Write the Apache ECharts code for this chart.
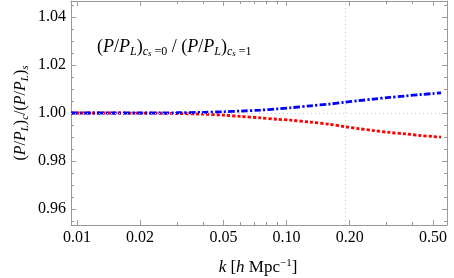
<!DOCTYPE html>
<html>
<head>
<meta charset="utf-8">
<script src="https://cdn.jsdelivr.net/npm/echarts@6/dist/echarts.min.js"></script>
<style>html,body{margin:0;padding:0;background:#fff;}#c{width:454px;height:278px;}</style>
</head>
<body>
<div id="c"></div>
<script>
// k values [h/Mpc]
var kValues = [0.00936, 0.012, 0.015, 0.02, 0.025, 0.03, 0.04, 0.05, 0.06, 0.075, 0.09, 0.105, 0.13, 0.16, 0.19, 0.22, 0.26, 0.31, 0.37, 0.44, 0.5, 0.546];
// blue dash-dot curve
var blueRatio = [1.0000, 1.0000, 1.0000, 1.0000, 1.0000, 1.0001, 1.0003, 1.0005, 1.0008, 1.0012, 1.0017, 1.0022, 1.0030, 1.0037, 1.0045, 1.0051, 1.0058, 1.0065, 1.0071, 1.0077, 1.0081, 1.0084];
// red dotted curve
var redRatio = [1.0000, 1.0000, 1.0000, 0.99995, 0.9999, 0.9998, 0.9995, 0.9991, 0.9986, 0.9980, 0.9974, 0.9970, 0.9962, 0.9953, 0.9943, 0.9935, 0.9927, 0.9919, 0.9913, 0.9906, 0.9902, 0.9900];
var xMajorTicks = [0.01, 0.02, 0.05, 0.1, 0.2, 0.5];
var xMinorTicks = [0.03, 0.04, 0.06, 0.07, 0.08, 0.09, 0.3, 0.4];
var yMajorTicks = [0.96, 0.98, 1.00, 1.02, 1.04];
var yMinorTicks = [0.955, 0.965, 0.97, 0.975, 0.985, 0.99, 0.995, 1.005, 1.01, 1.015, 1.025, 1.03, 1.035, 1.045];
var kNonLinear = 0.187;

var FRAME = '#999999';
var SERIF = '"Liberation Serif", "DejaVu Serif", serif';
var xMin = 0.00936, xMax = 0.583, yMin = 0.9534, yMax = 1.0466;

function pairs(xs, ys) { return xs.map(function (x, i) { return [x, ys[i]]; }); }

function xAx(pos, ticks, len, showLine, showLabel) {
  return {
    type: 'log', logBase: 10, min: xMin, max: xMax, position: pos,
    axisLine: { show: showLine, lineStyle: { color: FRAME, width: 1 } },
    axisTick: { show: true, inside: true, length: len, customValues: ticks, lineStyle: { color: FRAME, width: 1 } },
    axisLabel: showLabel ? {
      show: true, customValues: ticks, margin: 5, color: '#000', fontFamily: SERIF, fontSize: 16,
      formatter: function (v) { return Number(v).toFixed(2); }
    } : { show: false },
    splitLine: { show: false }, minorTick: { show: false }, minorSplitLine: { show: false }
  };
}
function yAx(pos, ticks, len, showLine, showLabel) {
  return {
    type: 'value', min: yMin, max: yMax, position: pos,
    axisLine: { show: showLine, lineStyle: { color: FRAME, width: 1 } },
    axisTick: { show: true, inside: true, length: len, customValues: ticks, lineStyle: { color: FRAME, width: 1 } },
    axisLabel: showLabel ? {
      show: true, customValues: ticks, margin: 5, color: '#000', fontFamily: SERIF, fontSize: 16,
      formatter: function (v) { return Number(v).toFixed(2); }
    } : { show: false },
    splitLine: { show: false }
  };
}

var richMain = {
  n: { fontFamily: SERIF, fontSize: 18, lineHeight: 22, verticalAlign: 'middle', color: '#000' },
  i: { fontFamily: SERIF, fontStyle: 'italic', fontSize: 18, lineHeight: 22, verticalAlign: 'middle', color: '#000' },
  s: { fontFamily: SERIF, fontStyle: 'italic', fontSize: 12, lineHeight: 12, padding: [10, 0, 0, 0], verticalAlign: 'middle', color: '#000' },
  ss: { fontFamily: SERIF, fontStyle: 'italic', fontSize: 9, lineHeight: 9, padding: [13, 0, 0, 0], verticalAlign: 'middle', color: '#000' },
  sn: { fontFamily: SERIF, fontSize: 12, lineHeight: 12, padding: [10, 0, 0, 0], verticalAlign: 'middle', color: '#000' }
};
var richY = {
  n: { fontFamily: SERIF, fontSize: 16, lineHeight: 20, verticalAlign: 'middle', color: '#000' },
  i: { fontFamily: SERIF, fontStyle: 'italic', fontSize: 16, lineHeight: 20, verticalAlign: 'middle', color: '#000' },
  s: { fontFamily: SERIF, fontStyle: 'italic', fontSize: 11, lineHeight: 11, padding: [9, 0, 0, 0], verticalAlign: 'middle', color: '#000' }
};
var richX = {
  n: { fontFamily: SERIF, fontSize: 17, lineHeight: 20, verticalAlign: 'middle', color: '#000' },
  i: { fontFamily: SERIF, fontStyle: 'italic', fontSize: 17, lineHeight: 20, verticalAlign: 'middle', color: '#000' },
  sup: { fontFamily: SERIF, fontSize: 11, lineHeight: 11, padding: [0, 0, 9, 0], verticalAlign: 'middle', color: '#000' }
};

var chart = echarts.init(document.getElementById('c'), null, { renderer: 'canvas' });
chart.setOption({
  animation: false,
  backgroundColor: '#fff',
  grid: { left: 71, right: 7, top: 1, bottom: 53, containLabel: false },
  xAxis: [
    xAx('bottom', xMajorTicks, 5, true, true),
    xAx('bottom', xMinorTicks, 3, false, false),
    xAx('top', xMajorTicks, 5, true, false),
    xAx('top', xMinorTicks, 3, false, false)
  ],
  yAxis: [
    yAx('left', yMajorTicks, 5, true, true),
    yAx('left', yMinorTicks, 3, false, false),
    yAx('right', yMajorTicks, 5, true, false),
    yAx('right', yMinorTicks, 3, false, false)
  ],
  series: [
    {
      type: 'line', xAxisIndex: 0, yAxisIndex: 0, data: [], z: 1, silent: true,
      markLine: {
        silent: true, symbol: 'none', label: { show: false },
        lineStyle: { type: [1, 3], color: '#c8c8c8', width: 1 },
        data: [{ xAxis: kNonLinear }, { yAxis: 1.0 }]
      }
    },
    {
      name: 'red', type: 'line', xAxisIndex: 0, yAxisIndex: 0, z: 3,
      data: pairs(kValues, redRatio), showSymbol: false, smooth: 0.3,
      lineStyle: { color: '#ff0000', width: 2.8, type: [3.2, 2], cap: 'butt' }
    },
    {
      name: 'blue', type: 'line', xAxisIndex: 0, yAxisIndex: 0, z: 4,
      data: pairs(kValues, blueRatio), showSymbol: false, smooth: 0.3,
      lineStyle: { color: '#0000ff', width: 2.8, type: [6.5, 2.2, 2.2, 2.2], cap: 'butt' }
    }
  ],
  graphic: [
    {
      type: 'text', left: 97, top: 36, silent: true,
      style: {
        text: '{n|(}{i|P}{n|/}{i|P}{s|L}{n|)}{s|c}{ss|s}{sn| =0}{n| / (}{i|P}{n|/}{i|P}{s|L}{n|)}{s|c}{ss|s}{sn| =1}',
        rich: richMain
      }
    },
    {
      type: 'text', x: 21, y: 113, rotation: Math.PI / 2, silent: true,
      style: {
        text: '{n|(}{i|P}{n|/}{i|P}{s|L}{n|)}{s|c}{n|/(}{i|P}{n|/}{i|P}{s|L}{n|)}{s|s}',
        rich: richY, align: 'center', verticalAlign: 'middle'
      }
    },
    {
      type: 'text', x: 258, y: 268, silent: true,
      style: {
        text: '{i|k}{n| [}{i|h}{n| Mpc}{sup|−1}{n|]}',
        rich: richX, align: 'center', verticalAlign: 'middle'
      }
    }
  ]
});
</script>
</body>
</html>
